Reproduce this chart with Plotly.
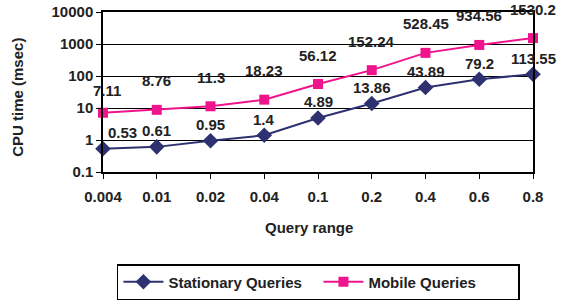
import plotly.graph_objects as go
import math

categories = ["0.004", "0.01", "0.02", "0.04", "0.1", "0.2", "0.4", "0.6", "0.8"]
stationary = [0.53, 0.61, 0.95, 1.4, 4.89, 13.86, 43.89, 79.2, 113.55]
mobile = [7.11, 8.76, 11.3, 18.23, 56.12, 152.24, 528.45, 934.56, 1530.2]
y_ticks = [0.1, 1, 10, 100, 1000, 10000]
y_tick_labels = ["0.1", "1", "10", "100", "1000", "10000"]

FONT = "Arial, 'Liberation Sans', sans-serif"
NAVY = "#2E3170"
PINK = "#F0148C"
TXT = "#222222"
FS = 15

fig = go.Figure()
fig.add_trace(go.Scatter(
    x=categories, y=stationary, mode="lines+markers", name="<b>Stationary Queries</b>",
    line=dict(color=NAVY, width=2), marker=dict(symbol="diamond", size=12, color=NAVY),
    cliponaxis=False))
fig.add_trace(go.Scatter(
    x=categories, y=mobile, mode="lines+markers", name="<b>Mobile Queries</b>",
    line=dict(color=PINK, width=2), marker=dict(symbol="square", size=10, color=PINK),
    cliponaxis=False))

annotations = []
for i, v in enumerate(stationary):
    annotations.append(dict(x=i, y=math.log10(v), text="<b>" + str(v) + "</b>", showarrow=False,
                            yshift=16, xshift=(19 if i == 0 else 0),
                            xanchor="center", yanchor="middle",
                            font=dict(family=FONT, size=FS, color=TXT),
                            xref="x", yref="y"))
for i, v in enumerate(mobile):
    annotations.append(dict(x=i, y=math.log10(v), text="<b>" + str(v) + "</b>", showarrow=False,
                            yshift=(22 if i == 0 else 29), xshift=(4 if i == 0 else 0),
                            xanchor="center", yanchor="middle",
                            font=dict(family=FONT, size=FS, color=TXT),
                            xref="x", yref="y"))
annotations.append(dict(x=0.479, y=-0.344, xref="paper", yref="paper", text="<b>Query range</b>",
                        xanchor="center", yanchor="middle",
                        showarrow=False, font=dict(family=FONT, size=FS, color=TXT)))
annotations.append(dict(x=-0.198, y=0.469, xref="paper", yref="paper", text="<b>CPU time (msec)</b>",
                        xanchor="center", yanchor="middle",
                        showarrow=False, textangle=-90, font=dict(family=FONT, size=FS, color=TXT)))

fig.update_layout(
    width=561, height=301,
    margin=dict(l=103, r=28, t=12, b=129, autoexpand=False),
    paper_bgcolor="white", plot_bgcolor="white",
    font=dict(family=FONT, size=FS, color=TXT),
    showlegend=True,
    legend=dict(orientation="h", x=0.501, xanchor="center", y=-0.575, yanchor="top",
                bordercolor="black", borderwidth=1.5,
                font=dict(family=FONT, size=FS, color=TXT),
                itemwidth=40, entrywidthmode="pixels", entrywidth=145),
    annotations=annotations,
    xaxis=dict(type="category", range=[0, 8], showgrid=False, showline=True, mirror=True,
               automargin=False, ticklabelstandoff=5,
               linecolor="black", linewidth=1.5, ticks="outside", ticklen=5, tickcolor="black",
               tickfont=dict(family=FONT, size=FS, color=TXT), tickprefix="<b>", ticksuffix="</b>"),
    yaxis=dict(type="log", range=[-1, 4], tickvals=y_ticks, automargin=False,
               ticktext=["<b>" + t + "</b>" for t in y_tick_labels],
               showgrid=True, gridcolor="black", gridwidth=1, showline=True, mirror=True,
               linecolor="black", linewidth=1.5, ticks="outside", ticklen=5, tickcolor="black",
               tickfont=dict(family=FONT, size=FS, color=TXT)),
)

fig.write_html("out.html", config={"displayModeBar": False},
               post_script="document.body.style.margin='0';document.body.style.padding='0';")
